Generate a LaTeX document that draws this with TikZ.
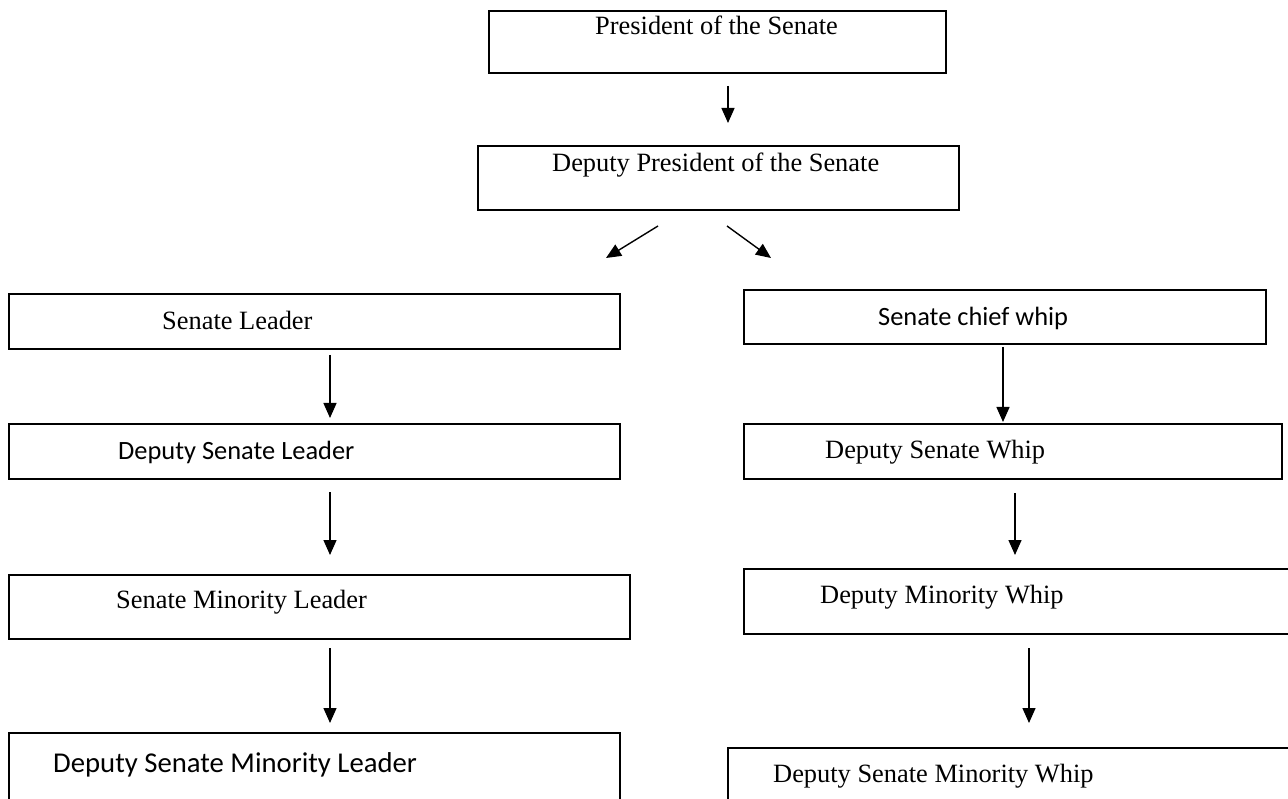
\documentclass[tikz,border=0pt]{standalone}
\usepackage{fontspec}
\setmainfont{Liberation Serif}
\newfontfamily\calibri{Carlito}
\usetikzlibrary{arrows.meta}
\tikzset{
    box/.style={draw, rectangle, line width=1.8pt, anchor=north west, inner sep=0pt},
    txt/.style={anchor=base west, inner sep=0pt, font=\fontsize{26.4}{30}\selectfont},
    txtsans/.style={anchor=base west, inner sep=0pt, font=\calibri\fontsize{26.4}{30}\selectfont},
    arr/.style={-{Triangle[length=15pt,width=13pt]}, line width=1.4pt},
}

\begin{document}
\begin{tikzpicture}[x=1pt,y=-1pt]
    \useasboundingbox (0,0) rectangle (1288,799);
    \clip (0,0) rectangle (1288,799);
    % top
    \node[box, minimum width=457, minimum height=62] (pres) at (488,10) {};
    \node[txt] (pres-t) at (595,35) {President of the Senate};
    \node[box, minimum width=481, minimum height=64] (dpres) at (477,145) {};
    \node[txt] (dpres-t) at (552,172) {Deputy President of the Senate};
    % left column
    \node[box, minimum width=611, minimum height=55] (sl) at (8,293) {};
    \node[txt] (sl-t) at (162,330) {Senate Leader};
    \node[box, minimum width=611, minimum height=55] (dsl) at (8,423) {};
    \node[txtsans] (dsl-t) at (118,460) {Deputy Senate Leader};
    \node[box, minimum width=621, minimum height=64] (sml) at (8,574) {};
    \node[txt] (sml-t) at (116,608) {Senate Minority Leader};
    \node[box, minimum width=611, minimum height=90] (dsml) at (8,732) {};
    \node[txtsans, font=\calibri\fontsize{28.7}{32}\selectfont] (dsml-t) at (53,772) {Deputy Senate Minority Leader};
    % right column
    \node[box, minimum width=522, minimum height=54] (scw) at (743,289) {};
    \node[txtsans] (scw-t) at (878,326) {Senate chief whip};
    \node[box, minimum width=538, minimum height=55] (dsw) at (743,423) {};
    \node[txt] (dsw-t) at (825,458) {Deputy Senate Whip};
    \node[box, minimum width=570, minimum height=65] (dmw) at (743,568) {};
    \node[txt] (dmw-t) at (820,603) {Deputy Minority Whip};
    \node[box, minimum width=590, minimum height=90] (dsmw) at (727,747) {};
    \node[txt] (dsmw-t) at (773,782) {Deputy Senate Minority Whip};
    % arrows
    \foreach \n/\xa/\ya/\xb/\yb in {a0/728/86/728/123, al/658/226/606/258, ar/727/226/771/258,
        a1/330/355/330/418, a2/330/492/330/555, a3/330/648/330/723,
        b1/1003/347/1003/422, b2/1015/493/1015/555, b3/1029/648/1029/723}{
        \coordinate (\n-s) at (\xa,\ya);
        \coordinate (\n-e) at (\xb,\yb);
        \draw[arr] (\n-s) -- (\n-e);
    }
\end{tikzpicture}
\end{document}
